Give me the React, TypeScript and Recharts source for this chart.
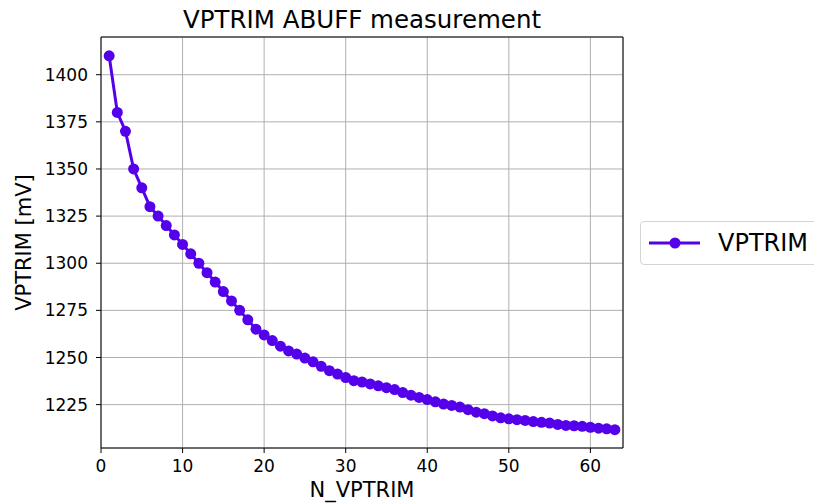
import { LineChart, Line, XAxis, YAxis, CartesianGrid, Legend, Label, ReferenceLine } from "recharts";

const nVptrim = [
  1, 2, 3, 4, 5, 6, 7, 8, 9, 10, 11, 12, 13, 14, 15, 16, 17, 18, 19, 20, 21,
  22, 23, 24, 25, 26, 27, 28, 29, 30, 31, 32, 33, 34, 35, 36, 37, 38, 39, 40, 41, 42,
  43, 44, 45, 46, 47, 48, 49, 50, 51, 52, 53, 54, 55, 56, 57, 58, 59, 60, 61, 62, 63,
];
const vptrimMv = [
  1410, 1380, 1370, 1350, 1340, 1330, 1325, 1320, 1315, 1310, 1305, 1300, 1295, 1290,
  1285, 1280, 1275, 1270, 1265, 1262, 1259, 1256, 1253.5, 1251.8, 1249.7, 1247.7, 1245.3,
  1243, 1241.2, 1239.4, 1237.7, 1237, 1236, 1235, 1234, 1233, 1231.4, 1230, 1228.8,
  1227.7, 1226.5, 1225.3, 1224.6, 1223.7, 1222.3, 1221, 1220.2, 1219, 1218, 1217.5,
  1217, 1216.6, 1216, 1215.6, 1215.2, 1214.5, 1214, 1213.8, 1213.5, 1213, 1212.5,
  1212.2, 1211.7,
];
const xTicks = [0, 10, 20, 30, 40, 50, 60];
const yTicks = [1225, 1250, 1275, 1300, 1325, 1350, 1375, 1400];

const data = nVptrim.map((n, i) => ({ n, vptrim: vptrimMv[i] }));

const COLOR = "#5500ea";
const FONT = "DejaVu Sans";
const X_DOMAIN: [number, number] = [0, 64];
const Y_DOMAIN: [number, number] = [1202, 1420];

function VptrimLegend() {
  return (
    <div
      style={{
        width: 190, height: 44, boxSizing: "border-box", border: "1px solid #d4d4d4",
        borderRadius: 4, background: "#fff", display: "flex", alignItems: "center",
        fontFamily: FONT,
      }}
    >
      <svg width={70} height={42} style={{ display: "block" }}>
        <line x1={8} x2={59} y1={21} y2={21} stroke={COLOR} strokeWidth={3} />
        <circle cx={34} cy={21} r={5.5} fill={COLOR} />
      </svg>
      <span style={{ fontSize: 24, color: "#000", marginLeft: 7, lineHeight: "24px" }}>VPTRIM</span>
    </div>
  );
}

export default function App() {
  return (
    <div
      style={{
        position: "absolute", left: 0, top: 0, width: 814, height: 503,
        overflow: "hidden", background: "#fff",
      }}
    >
      <LineChart width={814} height={503} data={data} margin={{ top: 37, right: 191, bottom: 0, left: 0 }}>
        <CartesianGrid stroke="#b0b0b0" strokeWidth={1} />
        <XAxis
          dataKey="n"
          type="number"
          domain={X_DOMAIN}
          ticks={xTicks}
          allowDataOverflow
          height={55}
          stroke="#000"
          tickSize={5}
          tickMargin={7}
          tick={{ fill: "#000", fontSize: 17, fontFamily: FONT }}
        >
          <Label
            content={({ viewBox }: any) => (
              <text x={viewBox.x + viewBox.width / 2} y={497} textAnchor="middle" fontSize={21} fontFamily={FONT} fill="#000">
                N_VPTRIM
              </text>
            )}
          />
          <Label
            content={({ viewBox }: any) => (
              <text x={viewBox.x + viewBox.width / 2} y={28} textAnchor="middle" fontSize={24.5} fontFamily={FONT} fill="#000">
                VPTRIM ABUFF measurement
              </text>
            )}
          />
        </XAxis>
        <YAxis
          type="number"
          domain={Y_DOMAIN}
          ticks={yTicks}
          allowDataOverflow
          width={101}
          stroke="#000"
          tickSize={5}
          tickMargin={8}
          tick={{ fill: "#000", fontSize: 17, fontFamily: FONT }}
        >
          <Label
            content={({ viewBox }: any) => {
              const cy = viewBox.y + viewBox.height / 2;
              return (
                <text x={31} y={cy} transform={`rotate(-90, 31, ${cy})`} textAnchor="middle" fontSize={21} fontFamily={FONT} fill="#000">
                  VPTRIM [mV]
                </text>
              );
            }}
          />
        </YAxis>
        <ReferenceLine y={Y_DOMAIN[1]} stroke="#000" strokeWidth={1} />
        <ReferenceLine x={X_DOMAIN[1]} stroke="#000" strokeWidth={1} />
        <Legend
          layout="vertical"
          align="center"
          verticalAlign="middle"
          wrapperStyle={{ left: 640, top: 221, width: 190 }}
          content={() => <VptrimLegend />}
        />
        <Line
          type="linear"
          dataKey="vptrim"
          name="VPTRIM"
          stroke={COLOR}
          strokeWidth={3}
          dot={{ r: 5.5, fill: COLOR, stroke: COLOR, strokeWidth: 0 }}
          activeDot={false}
          isAnimationActive={false}
        />
      </LineChart>
    </div>
  );
}
